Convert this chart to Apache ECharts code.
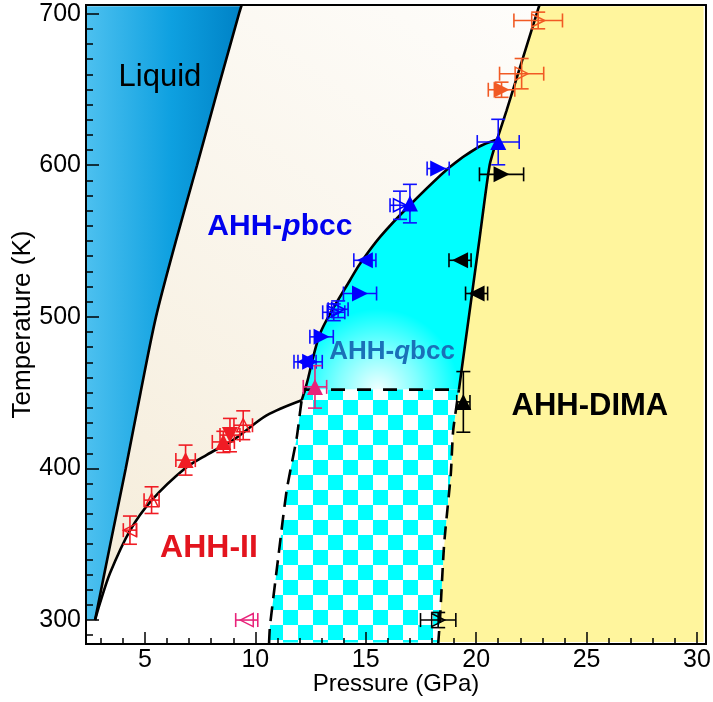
<!DOCTYPE html>
<html><head><meta charset="utf-8">
<script src="https://cdn.jsdelivr.net/npm/echarts@6/dist/echarts.min.js"></script>
<style>html,body{margin:0;padding:0;background:#fff}#wrap{position:relative;width:713px;height:702px}#c,#t{position:absolute;left:0;top:0;width:713px;height:702px}#t{pointer-events:none}</style>
</head><body><div id="wrap"><div id="c"></div><div id="t"></div></div>
<script>
// ---- axis extents ----
const xMin = 2.33, xMax = 30.41, yMin = 284.2, yMax = 705.7;
const xTickLabels = [5,10,15,20,25,30];
const yTickLabels = [300,400,500,600,700];

// ---- phase boundaries (P in GPa, T in K) ----
const meltLine = [[2.74,300],[3.43,350],[4.13,400],[4.8,450],[5.5,500],[6.4,550],[7.36,600],[8.3,650],[9.26,700],[9.38,705.7]];
const iiLine = [[2.74,300],[2.96,311],[3.42,331],[4.32,359],[5.3,379],[6.81,400],[7.8,409],[8.99,418.7],[10.51,435],[12.1,445]];
const pbccQbccLine = [[12.1,445],[12.25,452],[12.4,460],[12.62,473.6],[12.93,489],[13.38,502],[14.28,524],[14.74,535],[15.65,552.7],[16.99,573.6],[18.81,598.8],[20.1,612],[20.95,617]];
const dimaUpper = [[20.95,617],[21.38,636.2],[22.81,703.2],[22.87,705.7]];
const dimaLower = [[19.22,452],[19.67,500],[20.14,550],[20.61,600],[20.95,617]];
const dimaDashed = [[18.28,284.2],[18.36,300],[18.55,350],[18.85,396],[18.96,425],[19.22,452]];
const leftDashed = [[10.62,284.2],[10.66,295.6],[11.04,341.7],[11.42,385.7],[11.87,420],[12.1,445],[12.25,452]];
const qbccFloor = [[12.25,452],[19.22,452]];

// ---- measured points: [P, T, P error, T error] ----
const redPts = [[4.32,359.3,0.3,9.3],[5.30,379.1,0.34,8.8],[6.84,405.5,0.44,9.9],[8.55,417.5,0.5,7],[8.85,422,0.45,11],[9.45,428.5,0.42,9.5]];
const redKinds = ['left-open','up-open','up','up','down','up-open'];
const bluePts = [[12.25,470.3,0.5,0],[12.48,470.3,0.55,0],[13.0,486.8,0.53,0],[13.55,503,0.5,5.5],[13.75,505,0.45,5.5],[14.74,515.4,0.75,0],[14.96,537.3,0.5,0],[16.55,573.6,0.45,9.3],[17.0,574.7,0,12.7],[18.28,597.8,0.5,0],[21.0,615.3,0.95,15]];
const blueKinds = ['left','right','right','right-open','right-open','right','left','right-open','up','right','up'];
const orangePts = [[21.15,649.8,0.6,5],[22.06,660.4,1.0,10],[22.81,695.5,1.1,5.5]];
const orangeKinds = ['right','right-open','right-open'];
const blackPts = [[21.15,594,1.0,0],[19.27,537.3,0.5,0],[20.02,515.4,0.5,0],[19.42,443.9,0.3,20],[18.28,300,0.8,5]];
const blackKinds = ['right','left','left','up','right-open'];
const pinkPts = [[12.70,453.8,0.53,14],[9.61,300,0.5,0]];
const pinkKinds = ['up','left-open'];

// ---- region labels ----
const labelTexts = ['Liquid','AHH-{i|p}bcc','AHH-{i|q}bcc','AHH-II','AHH-DIMA'];
const labelPos = [[5.68,658],[11.11,559.7],[16.19,476.7],[7.90,347.1],[25.15,441.1]];

// ---------------------------------------------------------------
const FONT = "'Liberation Sans', Arial, Helvetica, sans-serif";
function rev(a){ return a.slice().reverse(); }

// ---- tick overlay chart (created first, independent of the main chart) ----
try {
  const tickChart = echarts.init(document.getElementById('t'), null, {renderer:'canvas'});
  tickChart.setOption({
    animation:false,
    backgroundColor:'rgba(0,0,0,0)',
    grid:{left:86, right:7, top:5, bottom:58, outerBoundsMode:'none'},
    xAxis:{type:'value', min:xMin, max:xMax,
      axisLine:{show:true, lineStyle:{color:'#000', width:2}},
      axisTick:{show:true, inside:true, length:12, lineStyle:{color:'#000', width:1.5}},
      minorTick:{show:true, splitNumber:5, length:6, lineStyle:{color:'#000', width:1.5}},
      axisLabel:{color:'rgba(0,0,0,0)'}, splitLine:{show:false}},
    yAxis:{type:'value', min:yMin, max:yMax,
      axisLine:{show:true, lineStyle:{color:'#000', width:2}},
      axisTick:{show:true, inside:true, length:13, lineStyle:{color:'#000', width:1.5}},
      minorTick:{show:true, splitNumber:10, length:7, lineStyle:{color:'#000', width:1.5}},
      axisLabel:{color:'rgba(0,0,0,0)'}, splitLine:{show:false}},
    series:[{type:'line', data:[[xMin, yMin]], showSymbol:false, lineStyle:{opacity:0}, silent:true}]
  });
} catch(e) {}

function makeChecker(){
  const s = 15, n = 30;
  const cv = document.createElement('canvas'); cv.width = n; cv.height = n;
  const g = cv.getContext('2d');
  g.fillStyle = '#ffffff'; g.fillRect(0,0,n,n);
  g.fillStyle = '#00ffff';
  const ox = 13, oy = 10;
  for (let i=-2;i<3;i++) for (let j=-2;j<3;j++) if ((((i+j)%2)+2)%2===0) g.fillRect(ox+i*s, oy+j*s, s, s);
  return cv;
}

const G = echarts.graphic;
const regions = [
  { // liquid
    pts: [[xMin+0.04,300]].concat(meltLine.slice(0,-1), [[9.34,704.8],[xMin+0.04,704.8]]),
    fill: new G.LinearGradient(0,0,1,0,[{offset:0,color:'#4cc0ef'},{offset:0.55,color:'#0ea0e0'},{offset:1,color:'#0082c6'}])
  },
  { // pbcc
    pts: meltLine.slice(0,-1).concat([[9.34,704.8],[22.84,704.8]], rev(dimaUpper).slice(2), rev(pbccQbccLine).slice(1), rev(iiLine).slice(1)),
    fill: new G.LinearGradient(0,1,1,0,[{offset:0,color:'#f5ecd9'},{offset:1,color:'#fefdfb'}])
  },
  { // DIMA
    pts: [[22.84,704.8],[30.3,704.8],[30.3,285.6],[18.28,285.6]].concat(dimaDashed.slice(1), dimaLower.slice(1), dimaUpper.slice(1,-1)),
    fill: '#fff59d'
  },
  { // qbcc
    pts: pbccQbccLine.slice(1).concat(rev(dimaLower).slice(1)),
    fill: new G.RadialGradient(0.38,1.0,0.42,[{offset:0,color:'#f0ffff'},{offset:0.5,color:'#80ffff'},{offset:1,color:'#00ffff'}])
  },
  { // checker (mixed) region
    pts: [[12.25,452],[19.22,452]].concat(rev(dimaDashed).slice(1,-1), [[18.28,285.2],[10.62,285.2]], leftDashed.slice(1)),
    fill: {image: makeChecker(), repeat: 'repeat'}
  }
];

function regionRender(params, api){
  const r = regions[params.dataIndex];
  return {type:'polygon', shape:{points: r.pts.map(p => api.coord(p))}, style:{fill: r.fill}, silent:true};
}

function errSeries(pts, color){
  return {
    type:'custom', z:4, silent:true, animation:false,
    data: pts,
    renderItem: function(params, api){
      const P = api.value(0), T = api.value(1), xe = api.value(2), ye = api.value(3);
      const ch = [], cap = 7, st = {stroke: color, lineWidth: 1.6};
      if (xe > 0){
        const a = api.coord([P-xe,T]), b = api.coord([P+xe,T]);
        ch.push({type:'line', shape:{x1:a[0],y1:a[1],x2:b[0],y2:b[1]}, style:st});
        ch.push({type:'line', shape:{x1:a[0],y1:a[1]-cap,x2:a[0],y2:a[1]+cap}, style:st});
        ch.push({type:'line', shape:{x1:b[0],y1:b[1]-cap,x2:b[0],y2:b[1]+cap}, style:st});
      }
      if (ye > 0){
        const a = api.coord([P,T-ye]), b = api.coord([P,T+ye]);
        ch.push({type:'line', shape:{x1:a[0],y1:a[1],x2:b[0],y2:b[1]}, style:st});
        ch.push({type:'line', shape:{x1:a[0]-cap,y1:a[1],x2:a[0]+cap,y2:a[1]}, style:st});
        ch.push({type:'line', shape:{x1:b[0]-cap,y1:b[1],x2:b[0]+cap,y2:b[1]}, style:st});
      }
      return {type:'group', children: ch};
    }
  };
}

const ROT = {up:0, down:180, left:90, right:-90};
function markSeries(pts, kinds, color){
  return {
    type:'scatter', z:5, silent:true, animation:false,
    itemStyle:{opacity:1},
    data: pts.map((p,i) => {
      const k = kinds[i].split('-'), open = k[1] === 'open';
      return {
        value:[p[0],p[1]], symbol:'triangle', symbolRotate: ROT[k[0]],
        symbolSize: open ? 13 : 16,
        itemStyle: open ? {color:'rgba(0,0,0,0)', borderColor: color, borderWidth: 1.5, opacity:1}
                        : {color: color, borderWidth: 0, opacity:1}
      };
    })
  };
}

function lineSeries(pts, dash, smooth){
  return {type:'line', data: pts, showSymbol:false, symbol:'none', z:3, silent:true, animation:false,
          smooth: smooth || false,
          lineStyle:{color:'#000', width: 2.6, type: dash || 'solid', opacity:1}};
}

const labelStyles = [
  {color:'#000000', fontSize:31, fontWeight:'normal'},
  {color:'#0000ee', fontSize:30, fontWeight:'bold'},
  {color:'#1a70b8', fontSize:26, fontWeight:'bold'},
  {color:'#e3141e', fontSize:32, fontWeight:'bold'},
  {color:'#000000', fontSize:31, fontWeight:'bold'}
];

const labelSeries = {
  type:'scatter', z:6, silent:true, animation:false, symbolSize:1,
  itemStyle:{opacity:1, color:'rgba(0,0,0,0)'},
  data: labelPos.map((p,i) => ({
    value: p,
    label: {
      show:true, position:'inside', formatter: labelTexts[i],
      color: labelStyles[i].color, fontSize: labelStyles[i].fontSize, fontWeight: labelStyles[i].fontWeight,
      fontFamily: FONT,
      rich: {i: {fontStyle:'italic', color: labelStyles[i].color, fontSize: labelStyles[i].fontSize, fontWeight: labelStyles[i].fontWeight, fontFamily: FONT}}
    }
  }))
};

const option = {
  animation:false,
  backgroundColor:'#fff',
  grid:{left:86, right:7, top:5, bottom:58, containLabel:false, outerBoundsMode:'none'},
  xAxis:[{
    type:'value', min:xMin, max:xMax,
    axisLine:{show:true, lineStyle:{color:'#000', width:2}},
    axisTick:{show:false}, minorTick:{show:false},
    splitLine:{show:false},
    axisLabel:{color:'#000', fontSize:25, fontFamily:FONT, margin:4,
      formatter: v => (xTickLabels.indexOf(Math.round(v)) >= 0 && Math.abs(v - Math.round(v)) < 1e-6 ? String(Math.round(v)) : '')},
    name:'Pressure (GPa)', nameLocation:'middle', nameGap:28, nameMoveOverlap:false,
    nameTextStyle:{color:'#000', fontSize:24, fontFamily:FONT}
  },{
    type:'value', min:xMin, max:xMax, position:'top',
    axisLine:{show:true, lineStyle:{color:'#000', width:2}},
    axisTick:{show:false}, minorTick:{show:false}, axisLabel:{show:false}, splitLine:{show:false}
  }],
  yAxis:[{
    type:'value', min:yMin, max:yMax,
    axisLine:{show:true, lineStyle:{color:'#000', width:2}},
    axisTick:{show:false}, minorTick:{show:false},
    splitLine:{show:false},
    axisLabel:{color:'#000', fontSize:25, fontFamily:FONT, margin:5,
      formatter: v => (yTickLabels.indexOf(Math.round(v)) >= 0 && Math.abs(v - Math.round(v)) < 1e-6 ? String(Math.round(v)) : '')},
    name:'Temperature (K)', nameLocation:'middle', nameGap:50, nameMoveOverlap:false,
    nameTextStyle:{color:'#000', fontSize:26, fontFamily:FONT}
  },{
    type:'value', min:yMin, max:yMax, position:'right',
    axisLine:{show:true, lineStyle:{color:'#000', width:2}},
    axisTick:{show:false}, minorTick:{show:false}, axisLabel:{show:false}, splitLine:{show:false}
  }],
  series:[
    {type:'custom', z:1, silent:true, animation:false, data: regions.map((r,i)=>[xMin, yMin]), renderItem: regionRender},
    lineSeries(meltLine, null, 0.3),
    lineSeries(iiLine, null, 0.3),
    lineSeries(pbccQbccLine, null, 0.3),
    lineSeries(dimaUpper),
    lineSeries(dimaLower, null, 0.2),
    lineSeries(dimaDashed, [13,8], 0.2),
    lineSeries(leftDashed, [15,8], 0.2),
    lineSeries(qbccFloor, [14,12]),
    errSeries(redPts, '#f01c24'), errSeries(bluePts, '#1010ff'), errSeries(orangePts, '#f15a24'),
    errSeries(blackPts, '#000'), errSeries(pinkPts, '#e8237a'),
    markSeries(redPts, redKinds, '#f01c24'), markSeries(bluePts, blueKinds, '#0000ff'),
    markSeries(orangePts, orangeKinds, '#f15a24'), markSeries(blackPts, blackKinds, '#000'),
    markSeries(pinkPts, pinkKinds, '#e8237a'),
    labelSeries
  ]
};
try {
  const chart = echarts.init(document.getElementById('c'), null, {renderer:'canvas'});
  chart.setOption(option);
} catch(e) {}
</script>
</body></html>
